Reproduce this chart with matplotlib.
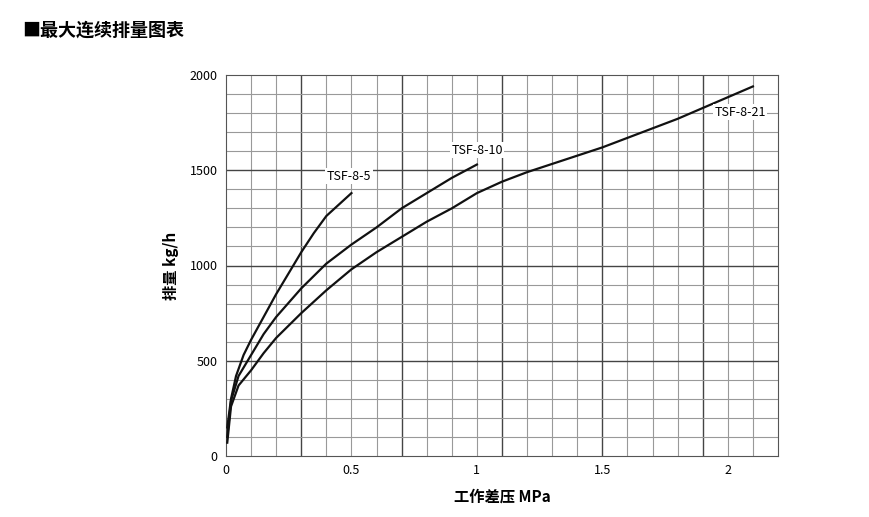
import numpy as np
import matplotlib.pyplot as plt

plt.rcParams['font.family'] = ['Noto Sans CJK SC', 'DejaVu Sans']

# curve data (MPa, kg/h)
x5 = [0.005, 0.02, 0.04, 0.07, 0.1, 0.15, 0.2, 0.25, 0.3, 0.35, 0.4, 0.45, 0.5]
y5 = [150, 300, 420, 530, 610, 730, 850, 960, 1070, 1170, 1260, 1320, 1380]
x10 = [0.005, 0.02, 0.05, 0.1, 0.15, 0.2, 0.3, 0.4, 0.5, 0.6, 0.7, 0.8, 0.9, 1.0]
y10 = [100, 290, 420, 530, 640, 730, 880, 1010, 1110, 1200, 1300, 1380, 1460, 1530]
x21 = [0.005, 0.02, 0.05, 0.1, 0.15, 0.2, 0.3, 0.4, 0.5, 0.6, 0.7, 0.8, 0.9, 1.0,
       1.1, 1.2, 1.5, 1.8, 2.1]
y21 = [70, 260, 370, 450, 540, 620, 750, 870, 980, 1070, 1150, 1230, 1300, 1380,
       1440, 1490, 1620, 1770, 1940]

fig = plt.figure(figsize=(8.7, 5.17), dpi=100)
ax = fig.add_axes([226/870, 1-456/517, 552/870, 381/517])
ax.set_xlim(0, 2.2)
ax.set_ylim(0, 2000)

dark_x = [0.3, 0.7, 1.1, 1.5, 1.9]
for gx in np.arange(0.1, 2.2, 0.1):
    dark = min(abs(gx - d) for d in dark_x) < 1e-6
    ax.axvline(gx, color='#444' if dark else '#999', lw=1.0 if dark else 0.8, zorder=0)
for gy in range(100, 2000, 100):
    dark = gy % 500 == 0
    ax.axhline(gy, color='#444' if dark else '#999', lw=1.0 if dark else 0.8, zorder=0)

for xs, ys in [(x5, y5), (x10, y10), (x21, y21)]:
    ax.plot(xs, ys, color='#111', lw=1.6, zorder=3, solid_joinstyle='round')

box = dict(facecolor='white', edgecolor='none', pad=1)
ax.text(0.49, 1435, 'TSF-8-5', fontsize=9, ha='center', va='bottom', bbox=box, zorder=4)
ax.text(1.0, 1605, 'TSF-8-10', fontsize=9, ha='center', va='center', bbox=box, zorder=4)
ax.text(2.05, 1805, 'TSF-8-21', fontsize=9, ha='center', va='center', bbox=box, zorder=4)

ax.set_xticks([0, 0.5, 1, 1.5, 2])
ax.set_xticklabels(['0', '0.5', '1', '1.5', '2'])
ax.set_yticks([0, 500, 1000, 1500, 2000])
ax.tick_params(length=0, labelsize=9, pad=6)
for s in ax.spines.values():
    s.set_color('#555')
ax.set_xlabel('工作差压 MPa', fontsize=11, fontweight='bold', labelpad=8)
ax.set_ylabel('排量 kg/h', fontsize=11, fontweight='bold', labelpad=8)

fig.text(22/870, 1-30/517, '■最大连续排量图表', fontsize=13, fontweight='bold', va='center')

fig.savefig('out.png', dpi=100)
